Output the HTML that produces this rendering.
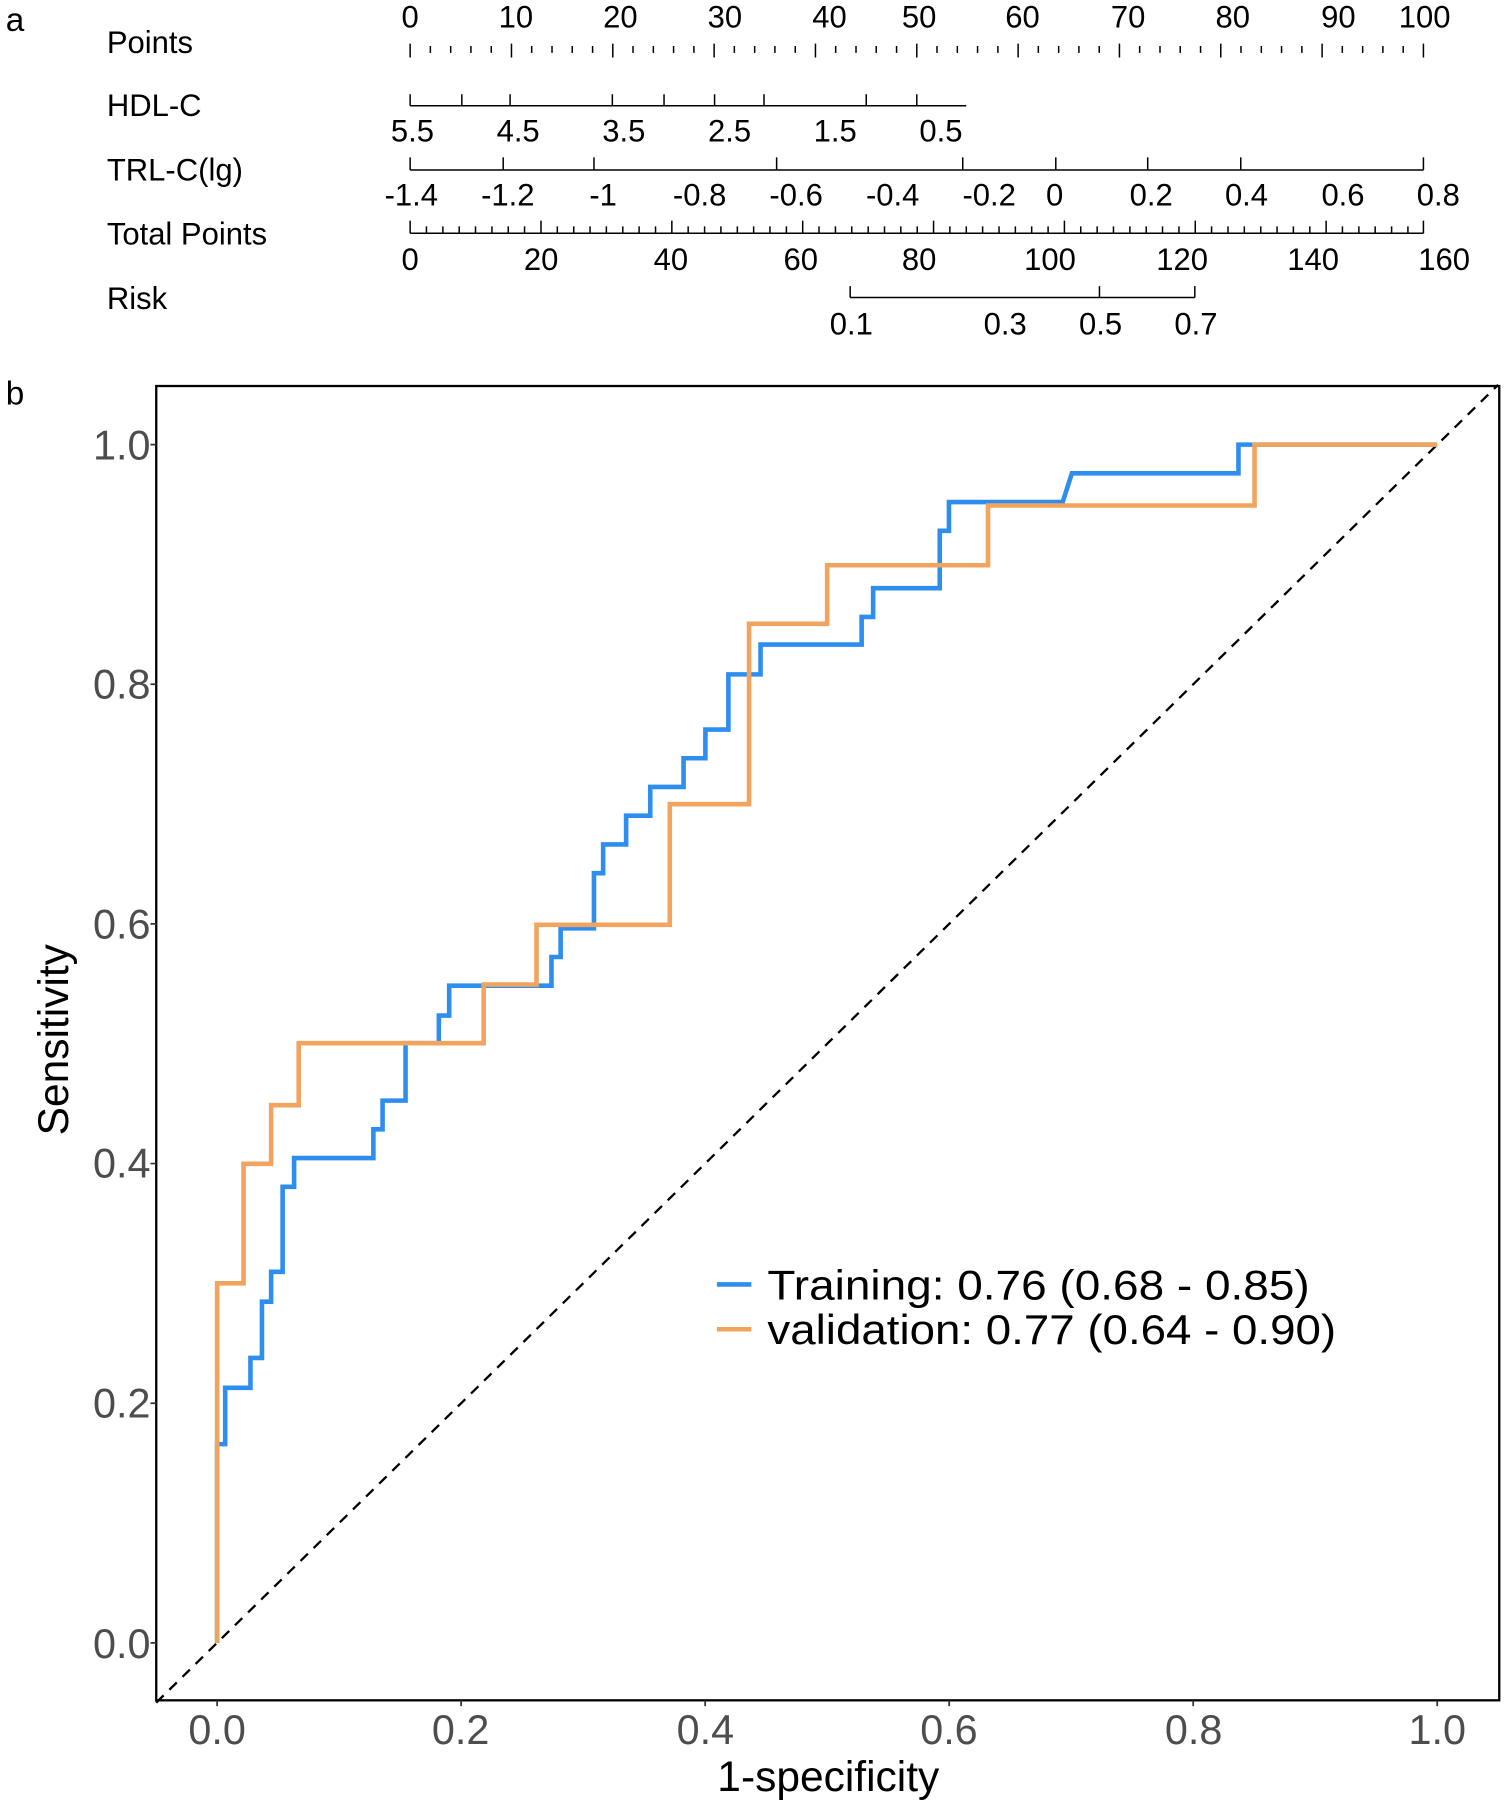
<!DOCTYPE html>
<html><head><meta charset="utf-8"><style>
html,body{margin:0;padding:0;background:#fff}
svg{display:block}
text{font-family:"Liberation Sans",sans-serif}
</style></head><body>
<svg width="1505" height="1802" viewBox="0 0 1310 1568.5" preserveAspectRatio="none" xmlns="http://www.w3.org/2000/svg">
<rect width="1310" height="1568.5" fill="#fff"/>
<g font-size="27" fill="#000">
<text x="5" y="27" font-size="29">a</text>
<text x="93" y="46">Points</text>
<text x="93" y="101">HDL-C</text>
<text x="93" y="157">TRL-C(lg)</text>
<text x="93" y="213">Total Points</text>
<text x="93" y="269">Risk</text>
</g>
<g font-size="27" text-anchor="middle" fill="#000">
<text x="357" y="24">0</text><text x="449" y="24">10</text><text x="540" y="24">20</text><text x="631" y="24">30</text><text x="722" y="24">40</text><text x="800" y="24">50</text><text x="890" y="24">60</text><text x="982" y="24">70</text><text x="1073" y="24">80</text><text x="1165" y="24">90</text><text x="1240" y="24">100</text>
<text x="359" y="123">5.5</text><text x="451" y="123">4.5</text><text x="543" y="123">3.5</text><text x="635" y="123">2.5</text><text x="727" y="123">1.5</text><text x="819" y="123">0.5</text>
<text x="358" y="179">-1.4</text><text x="442" y="179">-1.2</text><text x="525" y="179">-1</text><text x="609" y="179">-0.8</text><text x="693" y="179">-0.6</text><text x="777" y="179">-0.4</text><text x="861" y="179">-0.2</text><text x="918" y="179">0</text><text x="1002" y="179">0.2</text><text x="1085" y="179">0.4</text><text x="1169" y="179">0.6</text><text x="1252" y="179">0.8</text>
<text x="357" y="235">0</text><text x="471" y="235">20</text><text x="584" y="235">40</text><text x="697" y="235">60</text><text x="800" y="235">80</text><text x="914" y="235">100</text><text x="1029" y="235">120</text><text x="1143" y="235">140</text><text x="1257" y="235">160</text>
<text x="741" y="291">0.1</text><text x="875" y="291">0.3</text><text x="958" y="291">0.5</text><text x="1041" y="291">0.7</text>
</g>
<g stroke="#000" stroke-width="1.3" fill="none">
<path d="
M357,38V50 M374.6,40V46 M392.3,40V46 M409.9,40V46 M427.6,40V46
M445.2,38V50 M462.8,40V46 M480.5,40V46 M498.1,40V46 M515.8,40V46
M533.4,38V50 M551,40V46 M568.7,40V46 M586.3,40V46 M604,40V46
M621.6,38V50 M639.2,40V46 M656.9,40V46 M674.5,40V46 M692.2,40V46
M709.8,38V50 M727.4,40V46 M745.1,40V46 M762.7,40V46 M780.4,40V46
M798,38V50 M815.6,40V46 M833.3,40V46 M850.9,40V46 M868.6,40V46
M886.2,38V50 M903.8,40V46 M921.5,40V46 M939.1,40V46 M956.8,40V46
M974.4,38V50 M992,40V46 M1009.7,40V46 M1027.3,40V46 M1045,40V46
M1062.6,38V50 M1080.2,40V46 M1097.9,40V46 M1115.5,40V46 M1133.2,40V46
M1150.8,38V50 M1168.4,40V46 M1186.1,40V46 M1203.7,40V46 M1221.4,40V46
M1239,38V50"/>
<path d="M357,92H841 M357,82V92 M402,82V92 M444,82V92 M533,82V92 M578,82V92 M622,82V92 M665,82V92 M754,82V92 M798,82V92"/>
<path d="M357,148H1239 M357,137V148 M438,137V148 M517,137V148 M676,137V148 M838,137V148 M919,137V148 M999,137V148 M1080,137V148 M1239,137V148"/>
<path d="M357,203H1239
M357,192V203 M470.9,192V203 M584.8,192V203 M698.7,192V203 M812.6,192V203 M926.5,192V203 M1040.4,192V203 M1154.3,192V203 M1239,192V203
M371.2,197V203 M385.5,197V203 M399.7,197V203 M413.9,197V203 M428.2,197V203 M442.4,197V203 M456.6,197V203
M485.1,197V203 M499.4,197V203 M513.6,197V203 M527.8,197V203 M542.1,197V203 M556.3,197V203 M570.6,197V203
M599,197V203 M613.3,197V203 M627.5,197V203 M641.8,197V203 M656,197V203 M670.2,197V203 M684.5,197V203
M712.9,197V203 M727.2,197V203 M741.4,197V203 M755.7,197V203 M769.9,197V203 M784.1,197V203 M798.4,197V203
M826.8,197V203 M841.1,197V203 M855.3,197V203 M869.6,197V203 M883.8,197V203 M898,197V203 M912.3,197V203
M940.7,197V203 M955,197V203 M969.2,197V203 M983.5,197V203 M997.7,197V203 M1011.9,197V203 M1026.2,197V203
M1054.6,197V203 M1068.9,197V203 M1083.1,197V203 M1097.4,197V203 M1111.6,197V203 M1125.8,197V203 M1140.1,197V203
M1168.5,197V203 M1182.8,197V203 M1197,197V203 M1211.3,197V203 M1225.5,197V203"/>
<path d="M740,259H1040 M740,249V259 M957,249V259 M1040,249V259"/>
</g>
<text x="5" y="352" font-size="29">b</text>
<rect x="136" y="336" width="1169" height="1144" fill="none" stroke="#000" stroke-width="2"/>
<g stroke="#333" stroke-width="1.5">
<path d="M131,387H136 M131,595.6H136 M131,804.2H136 M131,1012.8H136 M131,1221.4H136 M131,1430H136"/>
<path d="M189,1480V1485 M401.4,1480V1485 M613.8,1480V1485 M826.2,1480V1485 M1038.6,1480V1485 M1251,1480V1485"/>
</g>
<g font-size="36" fill="#4d4d4d" text-anchor="end">
<text x="131" y="400">1.0</text><text x="131" y="608">0.8</text><text x="131" y="817">0.6</text><text x="131" y="1025">0.4</text><text x="131" y="1234">0.2</text><text x="131" y="1443">0.0</text>
</g>
<g font-size="36" fill="#4d4d4d" text-anchor="middle">
<text x="189" y="1518">0.0</text><text x="401" y="1518">0.2</text><text x="614" y="1518">0.4</text><text x="826" y="1518">0.6</text><text x="1039" y="1518">0.8</text><text x="1251" y="1518">1.0</text>
</g>
<text x="721" y="1559" font-size="37" text-anchor="middle">1-specificity</text>
<text transform="translate(59,905) rotate(-90)" font-size="37" text-anchor="middle">Sensitivity</text>
<path d="M136,1482L1304,335" stroke="#000" stroke-width="2" stroke-dasharray="9,7" fill="none"/>
<path fill="none" stroke="#2e8eef" stroke-width="4" d="M189,1430V1257H196V1208H218V1182H228V1133H236V1107H246V1033H256V1008H325V983H333V958H353V908H382V884H391V858H480V833H488V808H517V760H525V735H545V710H566V685H595V660H614V635H634V587H662V561H750V537H760V512H818V462H826V437H925L933,412H1078V387H1251"/>
<path fill="none" stroke="#f2a45e" stroke-width="4" d="M189,1430V1117H212V1013H236V962H260V908H421V857H467V805H583V700H652V543H720V492H860V440H1092V387H1251"/>
<path d="M624,1118H654" stroke="#2e8eef" stroke-width="4"/>
<path d="M624,1157H654" stroke="#f2a45e" stroke-width="4"/>
<text x="668" y="1131" font-size="36" textLength="472" lengthAdjust="spacingAndGlyphs">Training: 0.76 (0.68 - 0.85)</text>
<text x="668" y="1170" font-size="36" textLength="495" lengthAdjust="spacingAndGlyphs">validation: 0.77 (0.64 - 0.90)</text>
</svg>
</body></html>
